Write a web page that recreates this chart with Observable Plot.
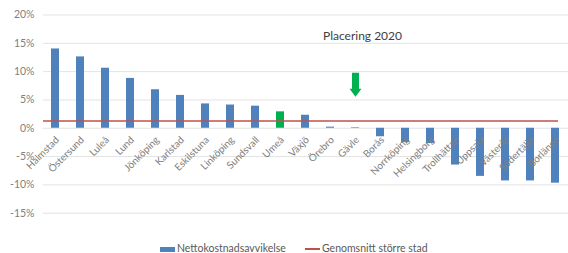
<!DOCTYPE html>
<html><head><meta charset="utf-8">
<script src="https://cdn.jsdelivr.net/npm/d3@7"></script>
<script src="https://cdn.jsdelivr.net/npm/@observablehq/plot@0.6"></script>
<style>
body{margin:0;background:#fff;font-family:Lato,"Liberation Sans",sans-serif;width:568px;height:253px;overflow:hidden;}
#legend{position:relative;height:13px;font-size:10.5px;line-height:13px;color:#595959;padding-top:2px;}
#legend span{position:absolute;white-space:nowrap;}
</style></head><body>
<div id="chart"></div>
<div id="legend">
  <span style="left:160px;top:7px;width:15px;height:5px;background:#4f81bd"></span>
  <span style="left:177px;top:2px">Nettokostnadsavvikelse</span>
  <span style="left:305px;top:8px;width:15px;height:2px;background:#c0504d"></span>
  <span style="left:322px;top:2px">Genomsnitt större stad</span>
</div>
<script>
const cities = ["Halmstad","Östersund","Luleå","Lund","Jönköping","Karlstad","Eskilstuna","Linköping","Sundsvall","Umeå","Växjö","Örebro","Gävle","Borås","Norrköping","Helsingborg","Trollhättan","Uppsala","Västerås","Södertälje","Borlänge"];
const values = [14.0,12.6,10.6,8.8,6.8,5.8,4.3,4.1,3.9,2.9,2.3,0.2,0.1,-1.5,-2.5,-2.7,-6.5,-8.5,-9.3,-9.3,-9.7];
const average = 1.3;
const yTicks = [-15,-10,-5,0,5,10,15,20];
const highlight = "Umeå";
const marked = "Gävle";
const titleText = "Placering 2020";
const arrowTop = 9.8;

const data = cities.map((city, i) => ({city, value: values[i]}));
const fmt = d => `${d}%`;

const arrowShape = {
  draw(context, l) {
    const head = 8, sw = 3.5, hw = 6;
    context.moveTo(-sw, 0);
    context.lineTo(-sw, -(l - head));
    context.lineTo(-hw, -(l - head));
    context.lineTo(0, -l);
    context.lineTo(hw, -(l - head));
    context.lineTo(sw, -(l - head));
    context.lineTo(sw, 0);
    context.closePath();
  }
};

const chart = Plot.plot({
  width: 568, height: 240,
  marginLeft: 43, marginRight: 0, marginTop: 14.5, marginBottom: 27.3,
  style: {fontFamily: "Lato, 'Liberation Sans', sans-serif", fontSize: "10px", background: "#fff", color: "#808080"},
  x: {domain: cities, paddingInner: 0.67, paddingOuter: 0.335, axis: null},
  y: {domain: [-15, 20], axis: null},
  color: {type: "identity"},
  marks: [
    Plot.gridY(yTicks, {stroke: "#e3e3e3", strokeOpacity: 1}),
    Plot.axisY(yTicks, {tickSize: 0, tickPadding: 9, tickFormat: fmt, fill: "#808080", fontSize: 10.5}),
    Plot.barY(data, {x: "city", y: "value", fill: d => d.city === highlight ? "#00b050" : "#4f81bd"}),
    Plot.ruleY([average], {stroke: "#c0504d", strokeWidth: 1.5, insetRight: 10}),
    Plot.text(data, {x: "city", y: () => 0, text: "city", rotate: -45, textAnchor: "end", dx: 2, dy: 10, fill: "#808080", fontSize: 10}),
    Plot.text([{city: marked, label: titleText}], {x: "city", text: "label", frameAnchor: "top", dx: 7, dy: 16, fill: "#404040", fontSize: 12}),
    Plot.vector([{city: marked, y: arrowTop}], {x: "city", y: "y", length: 24, rotate: 180, anchor: "start", shape: arrowShape, fill: "#00b050", stroke: "none"})
  ]
});
document.getElementById("chart").appendChild(chart);
</script>
</body></html>
